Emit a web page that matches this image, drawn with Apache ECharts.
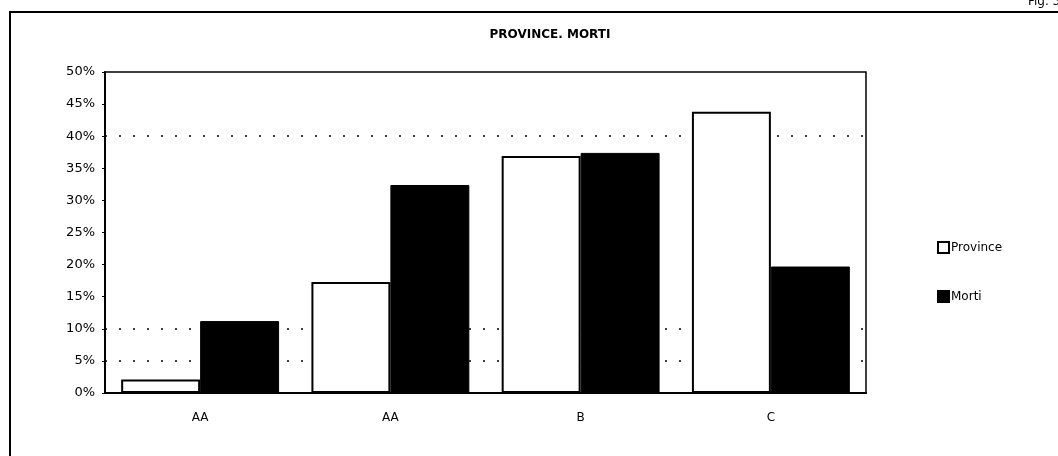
<!DOCTYPE html>
<html>
<head>
<meta charset="utf-8">
<script src="https://cdn.jsdelivr.net/npm/echarts@6/dist/echarts.min.js"></script>
<style>
  html, body { margin: 0; padding: 0; background: #fff; }
  #chart { width: 1058px; height: 456px; }
</style>
</head>
<body>
<div id="chart"></div>
<script>
const categories = ['AA', 'AA', 'B', 'C']
const province = [2.1, 17.3, 36.9, 43.8]
const morti = [11.2, 32.4, 37.4, 19.7]
const yTicks = [0, 5, 10, 15, 20, 25, 30, 35, 40, 45, 50]
const gridLevels = [5, 10, 40]

const font = '"DejaVu Sans", sans-serif'
const chart = echarts.init(document.getElementById('chart'))

const option = {
  backgroundColor: '#fff',
  animation: false,
  title: {
    text: 'PROVINCE. MORTI',
    left: 545,
    top: 24,
    textAlign: 'center',
    textStyle: { fontFamily: font, fontSize: 12, fontWeight: 'bold', color: '#000' },
  },
  legend: {
    orient: 'vertical',
    left: 932,
    top: 236,
    itemWidth: 11,
    itemHeight: 11,
    itemGap: 36,
    icon: 'rect',
    textStyle: { fontFamily: font, fontSize: 12, color: '#000', padding: [0, 0, 0, -3] },
    data: ['Province', 'Morti'],
  },
  grid: { left: 105, right: 192, top: 72, bottom: 63, show: true, borderColor: '#000', borderWidth: 1.5, backgroundColor: 'transparent' },
  xAxis: {
    type: 'category',
    data: categories,
    axisLine: { lineStyle: { color: '#000', width: 2 } },
    axisTick: { show: false },
    axisLabel: { color: '#000', fontFamily: font, fontSize: 12, margin: 19 },
  },
  yAxis: {
    type: 'value',
    min: yTicks[0],
    max: yTicks[yTicks.length - 1],
    interval: 5,
    axisLine: { show: true, lineStyle: { color: '#000', width: 2 } },
    axisTick: { show: true, length: 3, lineStyle: { color: '#000' } },
    axisLabel: { color: '#000', fontFamily: font, fontSize: 13, margin: 10, formatter: '{value}%' },
    splitLine: { show: false },
  },
  series: [
    {
      name: 'Province',
      type: 'bar',
      data: province,
      barGap: '0%',
      barCategoryGap: '17%',
      z: 3,
      itemStyle: { color: '#fff', borderColor: '#000', borderWidth: 2 },
      markLine: {
        silent: true,
        symbol: 'none',
        label: { show: false },
        lineStyle: { color: '#000', type: [2, 12], width: 1.5 },
        z: 1,
        data: gridLevels.map(v => ({ yAxis: v })),
      },
    },
    {
      name: 'Morti',
      type: 'bar',
      data: morti,
      z: 3,
      itemStyle: { color: '#000', borderColor: '#000', borderWidth: 1 },
    },
  ],
  graphic: [
    {
      type: 'rect',
      shape: { x: 10, y: 12, width: 1100, height: 500 },
      style: { fill: 'none', stroke: '#000', lineWidth: 2 },
    },
    {
      type: 'text',
      left: 1028,
      top: -4,
      style: { text: 'Fig. 3', fontFamily: font, fontSize: 12, fill: '#000' },
    },
  ],
}

chart.setOption(option)

window.addEventListener('resize', () => {
  chart.resize()
})
</script>
</body>
</html>
